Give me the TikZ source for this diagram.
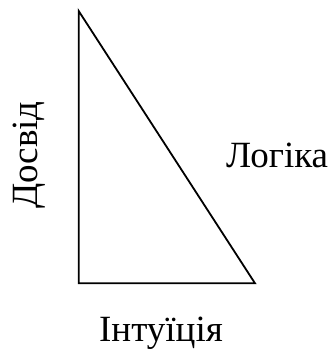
\documentclass[tikz,border=0pt]{standalone}
\usepackage{fontspec}
\setmainfont{Liberation Serif}
\begin{document}
\begin{tikzpicture}[x=1pt,y=1pt,
  lbl/.style={inner sep=0pt,font=\fontsize{37}{40}\selectfont},
  edge/.style={line width=1.8pt}]
\useasboundingbox (0,0) rectangle (333,349);
\coordinate (T) at (78.7,338);
\coordinate (BL) at (78.7,65.7);
\coordinate (BR) at (255,65.7);
\draw[edge] (T) -- (BL) -- (BR) -- cycle;
\node[lbl,anchor=base west,rotate=90] (d) at (38,140) {Досвід};
\node[lbl,anchor=base west] (l) at (226,182) {Логіка};
\node[lbl,anchor=base] (i) at (161,7.5) {Інтуїція};
\end{tikzpicture}
\end{document}
